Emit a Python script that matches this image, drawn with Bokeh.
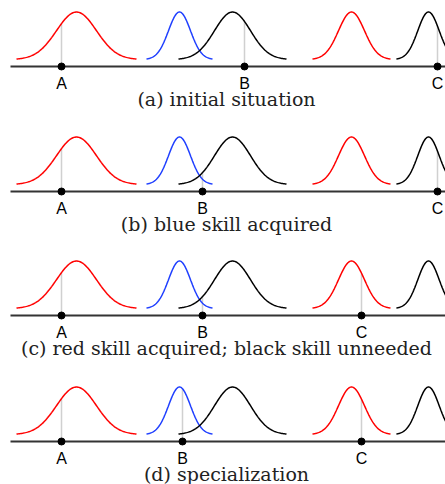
import numpy as np
from bokeh.plotting import figure
from bokeh.models import Range1d
from bokeh.embed import file_html
from bokeh.resources import INLINE
from bokeh.core.properties import value

# Skill distributions (same in every panel): centre, spread, colour
curve_centers = [76, 179, 232, 351, 428]
curve_sigmas = [20, 11, 18, 13, 10.7]
curve_colors = ["#ff0000", "#2040ff", "#000000", "#ff0000", "#000000"]

# Positions of the agents A, B, C in each panel
point_names = ["A", "B", "C"]
pos_A = [61, 61, 61, 61]
pos_B = [244, 202, 202, 182]
pos_C = [437, 437, 361, 361]

captions = ["(a) initial situation",
            "(b) blue skill acquired",
            "(c) red skill acquired; black skill unneeded",
            "(d) specialization"]

# layout (screen px)
W, H = 445, 484
axis_y = [66, 191, 315, 441]
curve_h = 47.5
curve_gap = 7
x_left = 10
x_right = 445
caption_x = 226

p = figure(width=W, height=H, output_backend="svg", toolbar_location=None,
           x_range=Range1d(0, W), y_range=Range1d(H, 0),
           min_border=0)
p.axis.visible = False
p.grid.visible = False
p.outline_line_color = None
p.background_fill_color = "white"
p.border_fill_color = "white"


def curve_val(k, x):
    return np.exp(-0.5 * ((x - curve_centers[k]) / curve_sigmas[k]) ** 2)


for i in range(4):
    ay = axis_y[i]
    base = ay - curve_gap
    # gray drop lines (drawn first)
    for px in (pos_A[i], pos_B[i], pos_C[i]):
        h = max(curve_val(k, px) for k in range(len(curve_centers)))
        p.segment(x0=[px], y0=[ay], x1=[px], y1=[base - curve_h * h],
                  line_color="#d0d0d0", line_width=1.5)
    # curves
    for k in range(len(curve_centers)):
        xs = np.linspace(curve_centers[k] - 3 * curve_sigmas[k],
                         curve_centers[k] + 3 * curve_sigmas[k], 120)
        ys = base - curve_h * curve_val(k, xs)
        p.line(xs, ys, line_color=curve_colors[k], line_width=1.5)
    # axis
    p.segment(x0=[x_left], y0=[ay], x1=[x_right], y1=[ay],
              line_color="#333333", line_width=2)
    pts = [pos_A[i], pos_B[i], pos_C[i]]
    p.scatter(pts, [ay] * 3, size=7, color="black")
    p.text(pts, [ay + 17] * 3, text=point_names,
           text_font=value("Liberation Sans"), text_font_size="16px",
           text_align="center", text_baseline="middle", text_color="black")
    p.text([caption_x], [ay + 32], text=[captions[i]],
           text_font=value("DejaVu Serif"), text_font_size="19px",
           text_align="center", text_baseline="middle", text_color="#222222")

open("out.html", "w").write(file_html(p, INLINE))
